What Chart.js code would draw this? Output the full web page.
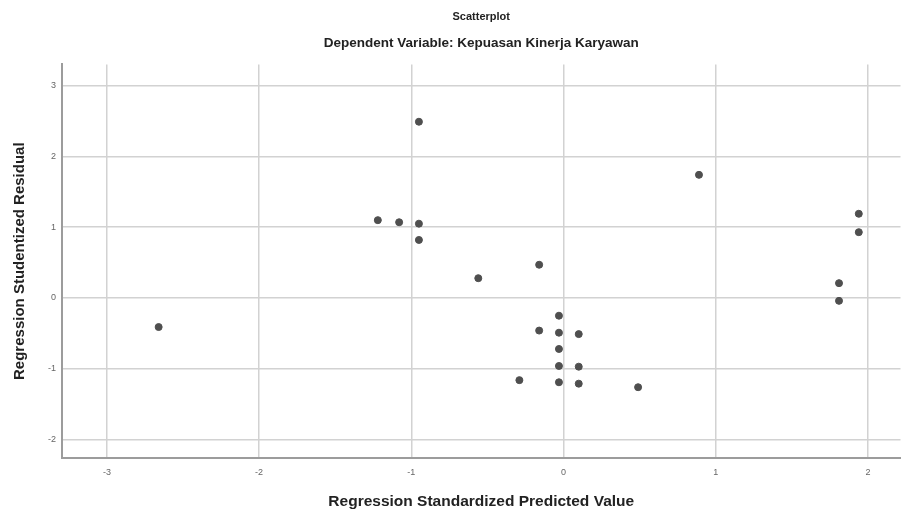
<!DOCTYPE html>
<html>
<head>
<meta charset="utf-8">
<script src="https://cdn.jsdelivr.net/npm/chart.js@4/dist/chart.umd.min.js"></script>
<style>
  html, body { margin: 0; padding: 0; background: #fff; }
  #wrap { width: 901px; height: 515px; overflow: hidden; }
</style>
</head>
<body>
<!-- canvas is a few px wider than the page so the plot runs off the right edge like the reference -->
<div id="wrap"><canvas id="scatter" width="905" height="515"></canvas></div>
<script>
// Regression Standardized Predicted Value
const predicted = [
  -2.66, -1.22, -1.08, -0.95, -0.95, -0.95, -0.56,
  -0.29, -0.16, -0.16, -0.03, -0.03, -0.03, -0.03, -0.03,
  0.10, 0.10, 0.10, 0.49, 0.89, 1.81, 1.81, 1.94, 1.94
];
// Regression Studentized Residual
const residual = [
  -0.41, 1.10, 1.07, 2.49, 1.05, 0.82, 0.28,
  -1.16, 0.47, -0.46, -0.25, -0.49, -0.72, -0.96, -1.19,
  -0.51, -0.97, -1.21, -1.26, 1.74, 0.21, -0.04, 1.19, 0.93
];
const xTicks = [-3, -2, -1, 0, 1, 2];
const yTicks = [-2, -1, 0, 1, 2, 3];

const font = 'Liberation Sans, Arial, sans-serif';
const points = predicted.map((x, i) => ({ x: x, y: residual[i] }));

new Chart(document.getElementById('scatter'), {
  type: 'scatter',
  data: {
    datasets: [{
      data: points,
      backgroundColor: '#4f4f4f',
      borderColor: '#4f4f4f',
      pointRadius: 3.5,
      pointHoverRadius: 3.5
    }]
  },
  options: {
    responsive: false,
    animation: false,
    layout: { padding: { top: 10, left: 8, right: 0, bottom: 4 } },
    plugins: {
      legend: { display: false },
      tooltip: { enabled: false },
      title: {
        display: true,
        fullSize: false,
        text: 'Scatterplot',
        color: '#222',
        font: { family: font, size: 11, weight: 'bold' },
        padding: { top: 0, bottom: 12 }
      },
      subtitle: {
        display: true,
        fullSize: false,
        text: 'Dependent Variable: Kepuasan Kinerja Karyawan',
        color: '#222',
        font: { family: font, size: 13.5, weight: 'bold' },
        padding: { top: 0, bottom: 13 }
      }
    },
    scales: {
      x: {
        type: 'linear',
        min: -3.295,
        max: 2.214,
        afterBuildTicks: s => { s.ticks = xTicks.map(v => ({ value: v })); },
        afterFit: s => { s.height = 53; },
        grid: { color: '#d2d2d2', lineWidth: 1.5, drawTicks: false },
        border: { color: '#9c9c9c', width: 2 },
        ticks: { color: '#666', font: { family: font, size: 9 }, padding: 9 },
        title: {
          display: true,
          text: 'Regression Standardized Predicted Value',
          color: '#222',
          font: { family: font, size: 15.5, weight: 'bold' },
          padding: { top: 0, bottom: 0 }
        }
      },
      y: {
        type: 'linear',
        min: -2.26,
        max: 3.30,
        afterBuildTicks: s => { s.ticks = yTicks.map(v => ({ value: v })); },
        afterFit: s => { s.width = 54; },
        grid: { color: '#d2d2d2', lineWidth: 1.5, drawTicks: false },
        border: { color: '#9c9c9c', width: 2 },
        ticks: { color: '#666', font: { family: font, size: 9 }, padding: 6 },
        title: {
          display: true,
          text: 'Regression Studentized Residual',
          color: '#222',
          font: { family: font, size: 15, weight: 'bold' },
          padding: { top: 3, bottom: 0 }
        }
      }
    }
  }
});
</script>
</body>
</html>
